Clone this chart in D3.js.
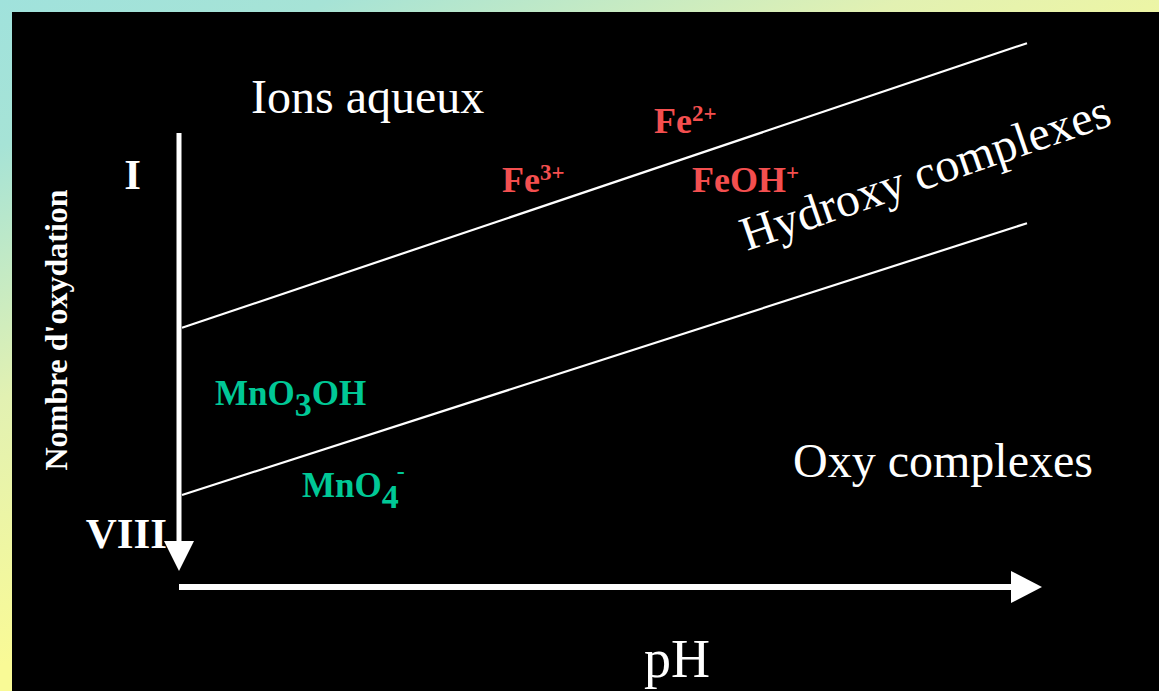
<!DOCTYPE html>
<html><head><meta charset="utf-8">
<script src="https://cdn.jsdelivr.net/npm/d3@7"></script>
<style>html,body{margin:0;padding:0;background:#000;overflow:hidden}text{font-family:"Liberation Serif","Times New Roman",serif}</style>
</head><body><svg id="c" width="1159" height="691"></svg>
<script>
// ---- data ----
const phDomain = [0, 14];
const oxTickLabels = ["I", "VIII"];
const oxTickValues = [1, 8];
// boundaries between domains (oxidation number at pH 0 and pH 14)
const boundaryPH = [0, 14];
const boundaryUpper = [3.96, -1.59];
const boundaryLower = [7.22, 1.92];
const regionLabels = ["Ions aqueux", "Hydroxy complexes", "Oxy complexes"];
const axisTitles = ["Nombre d'oxydation", "pH"];

const W = 1159, H = 691;
const svg = d3.select("#c");
const defs = svg.append("defs");
const g = defs.append("linearGradient").attr("id","bg").attr("gradientUnits","userSpaceOnUse")
  .attr("x1",0).attr("y1",0).attr("x2",247).attr("y2",557);
g.append("stop").attr("offset",0).attr("stop-color","#a0e2dc");
g.append("stop").attr("offset",0.22).attr("stop-color","#a6e3d6");
g.append("stop").attr("offset",0.6).attr("stop-color","#e2f1b2");
g.append("stop").attr("offset",1).attr("stop-color","#f9fa96");
svg.append("rect").attr("width",W).attr("height",H).attr("fill","url(#bg)");
svg.append("rect").attr("x",12).attr("y",12).attr("width",W-12).attr("height",H-12).attr("fill","#000");

const x = d3.scaleLinear().domain(phDomain).range([182, 1027]);
const y = d3.scaleLinear().domain([1, 8]).range([176, 535]);

// boundaries
const line = d3.line().x(d => x(d[0])).y(d => y(d[1]));
[boundaryUpper, boundaryLower].forEach(b => {
  svg.append("path").datum(boundaryPH.map((p,i)=>[p,b[i]])).attr("d", line)
    .attr("stroke","#fff").attr("stroke-width",2.2).attr("fill","none");
});

// vertical axis arrow
const ax = 179;
svg.append("line").attr("x1",ax).attr("x2",ax).attr("y1",133).attr("y2",545)
  .attr("stroke","#fff").attr("stroke-width",5);
svg.append("path").attr("d",`M${ax-15},541 L${ax+15},541 L${ax},571 Z`).attr("fill","#fff");
// horizontal axis arrow
const ay = 587;
svg.append("line").attr("x1",179).attr("x2",1015).attr("y1",ay).attr("y2",ay)
  .attr("stroke","#fff").attr("stroke-width",6);
svg.append("path").attr("d",`M1011,${ay-16} L1011,${ay+16} L1042,${ay} Z`).attr("fill","#fff");

// oxidation tick labels
svg.selectAll("text.ox").data(oxTickValues).enter().append("text")
  .attr("x",(d,i)=> i===0 ? 141 : 167).attr("y",(d,i)=> i===0 ? 189 : 548)
  .attr("text-anchor","end").attr("fill","#fff").attr("font-weight","bold").attr("font-size",43)
  .text((d,i)=>oxTickLabels[i]);

// axis titles
svg.append("text").attr("transform","translate(67,330) rotate(-90)").attr("text-anchor","middle")
  .attr("fill","#fff").attr("font-weight","bold").attr("font-size",32).text(axisTitles[0]);
svg.append("text").attr("x",677).attr("y",677).attr("text-anchor","middle")
  .attr("fill","#fff").attr("font-size",54).text(axisTitles[1]);

// region labels
svg.append("text").attr("x",251).attr("y",113).attr("fill","#fff").attr("font-size",48).text(regionLabels[0]);
svg.append("text").attr("transform","translate(747,251) rotate(-19)").attr("fill","#fff").attr("font-size",48).text(regionLabels[1]);
svg.append("text").attr("x",793).attr("y",477).attr("fill","#fff").attr("font-size",48).text(regionLabels[2]);

// species labels: parts with [text, baselineShift, fontSize, dxAdjust]
const red = "#f44f4f", green = "#00c896";
function species(xp, yp, parts, color){
  const t = svg.append("text").attr("x",xp).attr("y",yp).attr("fill",color)
    .attr("font-weight","bold").attr("font-size",36);
  let cur = 0;
  parts.forEach(p => {
    const s = t.append("tspan").text(p[0]).attr("dy", p[1]-cur).attr("font-size", p[2]);
    if (p[3]) s.attr("dx", p[3]);
    cur = p[1];
  });
}
species(502,192,[["Fe",0,36],["3+",-12,23]],red);
species(654,133,[["Fe",0,36],["2+",-12,23]],red);
species(692,192,[["FeOH",0,36],["+",-12,23]],red);
species(215,405,[["MnO",0,35],["3",11,34],["OH",0,35]],green);
species(302,497,[["MnO",0,35],["4",11,34],["-",-18,24,-2]],green);
</script></body></html>
